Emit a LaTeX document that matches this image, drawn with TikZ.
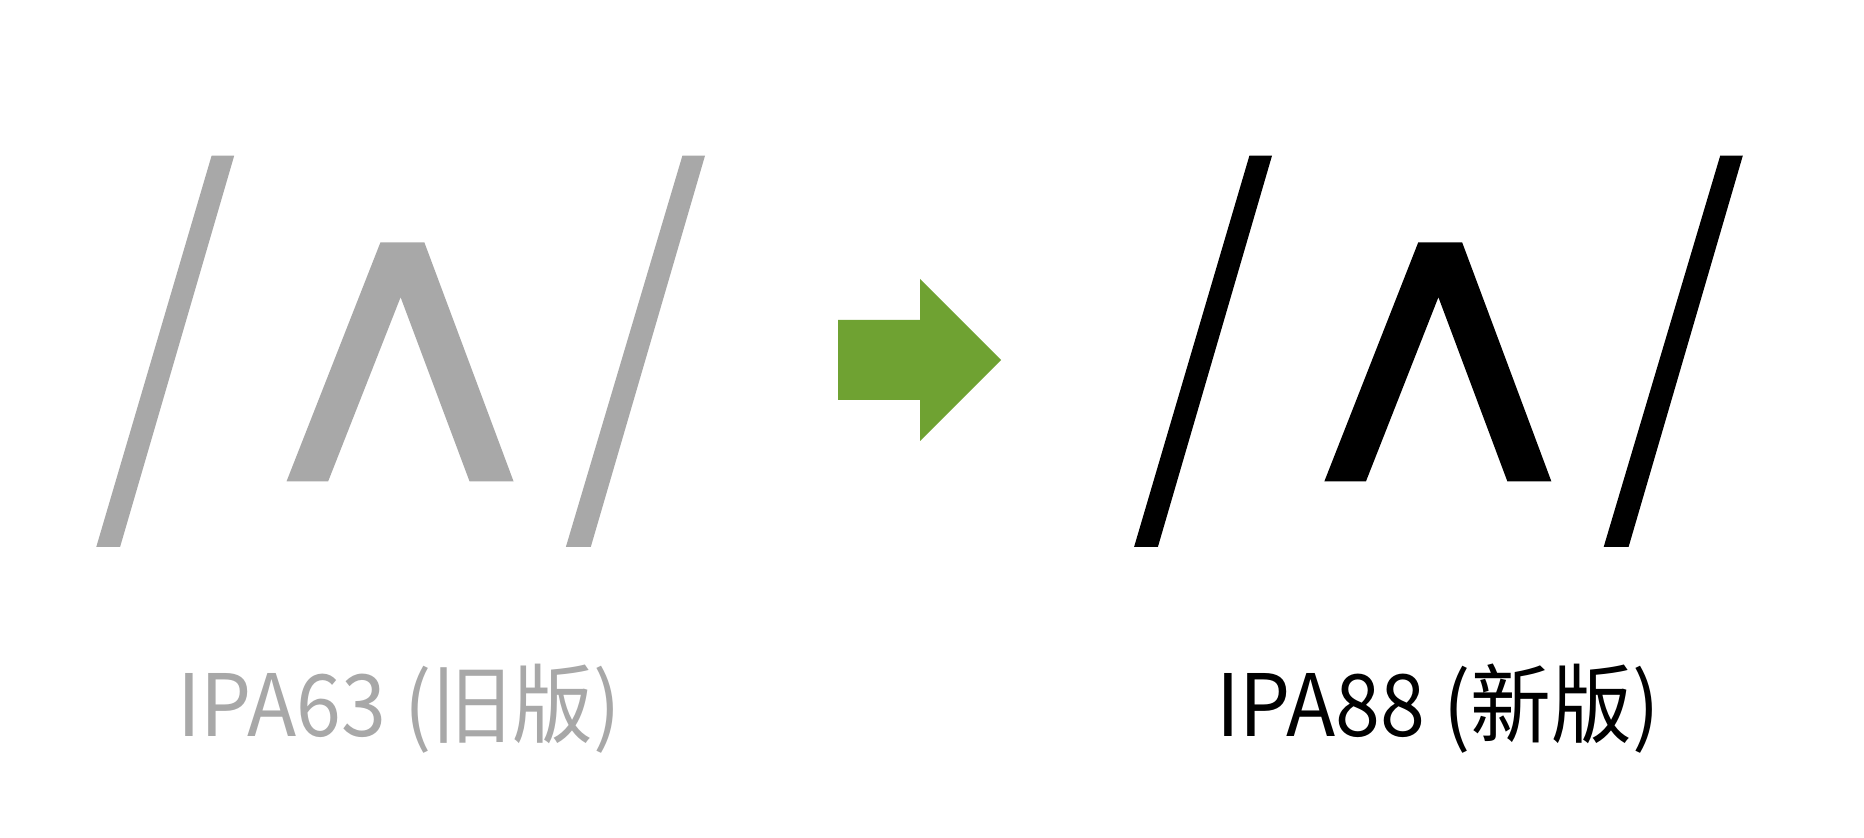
\documentclass[tikz,border=0pt]{standalone}
\usepackage{fontspec}
\newfontfamily\cjk{Noto Sans CJK SC}
\usetikzlibrary{positioning}
\definecolor{ipaGrey}{HTML}{A8A8A8}
\definecolor{ipaGreen}{HTML}{6FA232}

\begin{document}
\begin{tikzpicture}[
  x=0.5pt, y=-0.5pt,
  lbl/.style={font=\cjk\fontsize{43}{50}\selectfont, inner sep=0pt, anchor=base,
              transform shape, xscale=0.94},
  pics/phoneme/.style={code={
    % opening slash
    \fill (211.6,155.7) -- (234.2,155.7) -- (120.1,546.9) -- (96.3,546.9) -- cycle;
    % turned v
    \fill (380.4,242.5) -- (424.4,242.5) -- (513.6,481.5) -- (469.6,481.5)
          -- (400.6,297.2) -- (328.1,481.5) -- (286.5,481.5) -- cycle;
    % closing slash
    \fill (682.4,155.7) -- (705.0,155.7) -- (590.8,546.9) -- (565.9,546.9) -- cycle;
  }},
]
\useasboundingbox[fill=white] (0,0) rectangle (1864,838);

\pic[ipaGrey] (old) at (0,0) {phoneme};
\pic[black] (new) at (1037.8,0) {phoneme};

% arrow old -> new
\fill[ipaGreen] (838,320) -- (920,320) -- (920,279) -- (1001,360)
  -- (920,441) -- (920,400) -- (838,400) -- cycle;

\node[lbl, ipaGrey] (oldlabel) at (399,737) {IPA63 (旧版)};
\node[lbl, black] (newlabel) at (1438,737) {IPA88 (新版)};
\end{tikzpicture}
\end{document}
